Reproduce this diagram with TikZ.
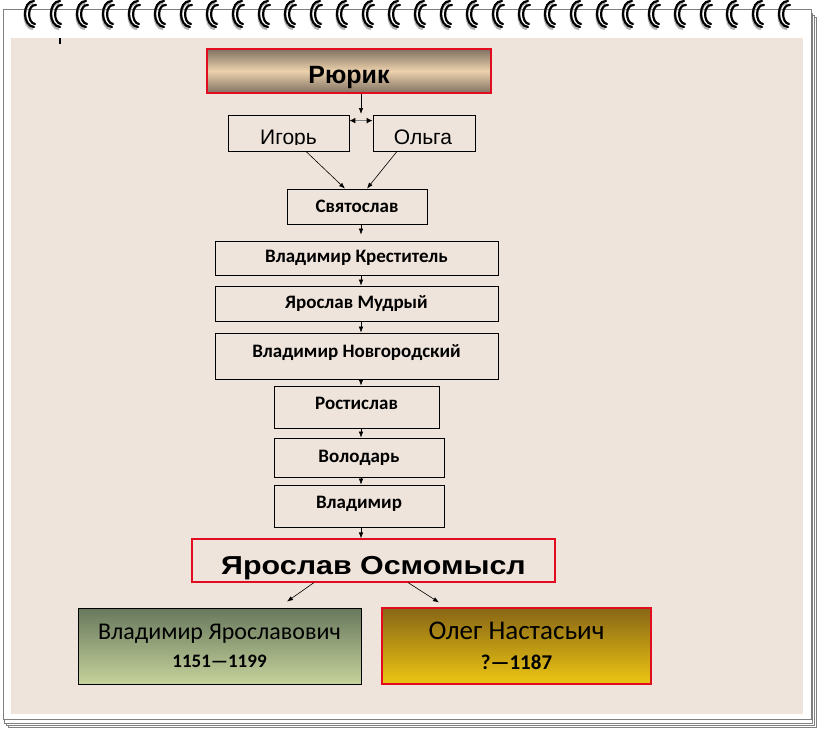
\documentclass[tikz,border=0pt]{standalone}
\usepackage{fontspec}
\usepackage{graphicx}
\setmainfont{Carlito}
\newfontfamily\arialfont{Liberation Sans}
\usetikzlibrary{arrows.meta}

\definecolor{paper}{RGB}{239,228,219}
\definecolor{boxred}{RGB}{226,12,32}
\definecolor{pagegray}{RGB}{128,128,128}
\definecolor{rurdark}{RGB}{128,113,98}
\definecolor{rurlight}{RGB}{236,209,172}
\definecolor{vytop}{RGB}{104,120,92}
\definecolor{vybot}{RGB}{197,210,156}
\definecolor{oltop}{RGB}{136,102,22}
\definecolor{olbot}{RGB}{237,198,18}

\begin{document}
\begin{tikzpicture}[x=1pt,y=-1pt,>={Latex[length=6pt,width=4.5pt]},
    box/.style={draw, line width=0.8pt, inner sep=0pt, minimum width=#1pt},
    redbox/.style={box=#1, draw=boxred, line width=1.1pt},
    arr/.style={->, line width=0.6pt},
    dblarr/.style={{Latex[color=black,length=6pt,width=6pt]}-{Latex[color=black,length=6pt,width=6pt]}, line width=1.2pt, draw=pagegray},
    pageline/.style={draw=pagegray, line width=1pt, fill=white},
    ring/.style={line width=2.2pt, line cap=round},
    ringshade/.style={line width=2.6pt, draw=black!30},
    namefont/.style={font=\bfseries\fontsize{19}{19}\selectfont}]
    \useasboundingbox (0,0) rectangle (820,731);
    \fill[white] (0,0) rectangle (820,731);

    % pages of the notebook
    \foreach \k in {3,2,1}
        \draw[pageline] (3+2*\k-0.5,11+2*\k) rectangle (811+2*\k-0.5,721+2*\k);
    \draw[pageline] (3,9) rectangle (811,719);
    \fill[paper] (11,38) rectangle (803,714);
    \draw[line width=2pt] (60,38) -- (60,44);

    % spiral
    \foreach \i in {0,...,29}{
        \pgfmathsetmacro\cx{29+26*\i}
        \draw[ringshade] (\cx+4,3) .. controls (\cx-7,3) and (\cx-7,28) .. (\cx+4,29);
        \draw[ring] (\cx+5,1) .. controls (\cx-7,1) and (\cx-7,26) .. (\cx+5,27);
        \draw[ring] (\cx+7,5) .. controls (\cx-2,4) and (\cx-2,23) .. (\cx+6,24);
    }

    \node[redbox=284, minimum height=44pt, top color=rurdark, bottom color=rurdark, middle color=rurlight,
        draw=boxred, font=\arialfont\bfseries\fontsize{25}{25}\selectfont, text height=24pt, text depth=0pt]
        (rurik) at (349,71) {Рюрик};

    \node[box=121, minimum height=36pt] (igor) at (288.5,133) {};
    \node[box=102, minimum height=36pt] (olga) at (424,133) {};
    \coordinate (cut) at (0,144.5);
    \begin{scope}
        \clip (igor.north west) rectangle (olga.east |- cut);
        \node[anchor=base, font=\arialfont\fontsize{21}{21}\selectfont] (igortext) at (288.5,144) {Игорь};
        \node[anchor=base, font=\arialfont\fontsize{21}{21}\selectfont] (olgatext) at (423,144) {Ольга};
    \end{scope}

    \node[box=140, minimum height=35pt, namefont] (svyat) at (357,206.5) {Святослав};
    \node[box=283, minimum height=34pt, namefont] (vkr) at (356.5,258) {Владимир Креститель};
    \node[box=283, minimum height=35pt, namefont] (yam) at (356.5,303.5) {Ярослав Мудрый};
    \node[box=283, minimum height=46pt, namefont, text depth=9pt] (vn) at (356.5,356) {Владимир Новгородский};
    \node[box=165, minimum height=42pt, namefont, text depth=7pt] (rost) at (356.5,407) {Ростислав};
    \node[box=170, minimum height=39pt, namefont] (vol) at (359,457.5) {Володарь};
    \node[box=170, minimum height=42pt, namefont, text depth=7pt] (vlad) at (359,506) {Владимир};

    \node[redbox=363, minimum height=43pt, font=\arialfont\bfseries\fontsize{26}{26}\selectfont,
        text height=27pt, text depth=0pt] (osm) at (373.5,560.5) {\scalebox{1.17}[1]{Ярослав Осмомысл}};

    \node[box=283, minimum height=76pt, top color=vytop, bottom color=vybot, align=center,
        font=\fontsize{24}{28}\selectfont] (vyar) at (219.5,646)
        {Владимир Ярославович\\{\bfseries\fontsize{19}{28}\selectfont 1151—1199}};
    \node[redbox=269, minimum height=76pt, top color=oltop, bottom color=olbot, align=center,
        draw=boxred, font=\fontsize{27}{30}\selectfont] (oleg) at (516.5,646)
        {Олег Настасьич\\{\bfseries\fontsize{21}{30}\selectfont ?—1187}};

    % connectors
    \coordinate (ax) at (361,0);
    \coordinate (rurend) at (361,114);
    \draw[arr] (rurik.south -| ax) -- (rurend);
    \draw[dblarr] ([yshift=-6pt]igor.north east) -- ([yshift=-6pt]olga.north west);
    \draw[arr] ([xshift=17.5pt]igor.south) -- ([xshift=-12pt]svyat.north);
    \draw[arr] ([xshift=-27pt]olga.south) -- ([xshift=10pt]svyat.north);
    \draw[arr, shorten >=6pt] (svyat.south -| ax) -- (vkr.north -| ax);
    \foreach \a/\b in {vkr/yam, yam/vn, vn/rost, rost/vol, vol/vlad, vlad/osm}
        \draw[arr] (\a.south -| ax) -- (\b.north -| ax);
    \draw[arr] ([xshift=-59.5pt]osm.south) -- ([xshift=67.5pt,yshift=6pt]vyar.north);
    \draw[arr] ([xshift=34.5pt]osm.south) -- ([xshift=-77.5pt,yshift=5pt]oleg.north);
\end{tikzpicture}
\end{document}
